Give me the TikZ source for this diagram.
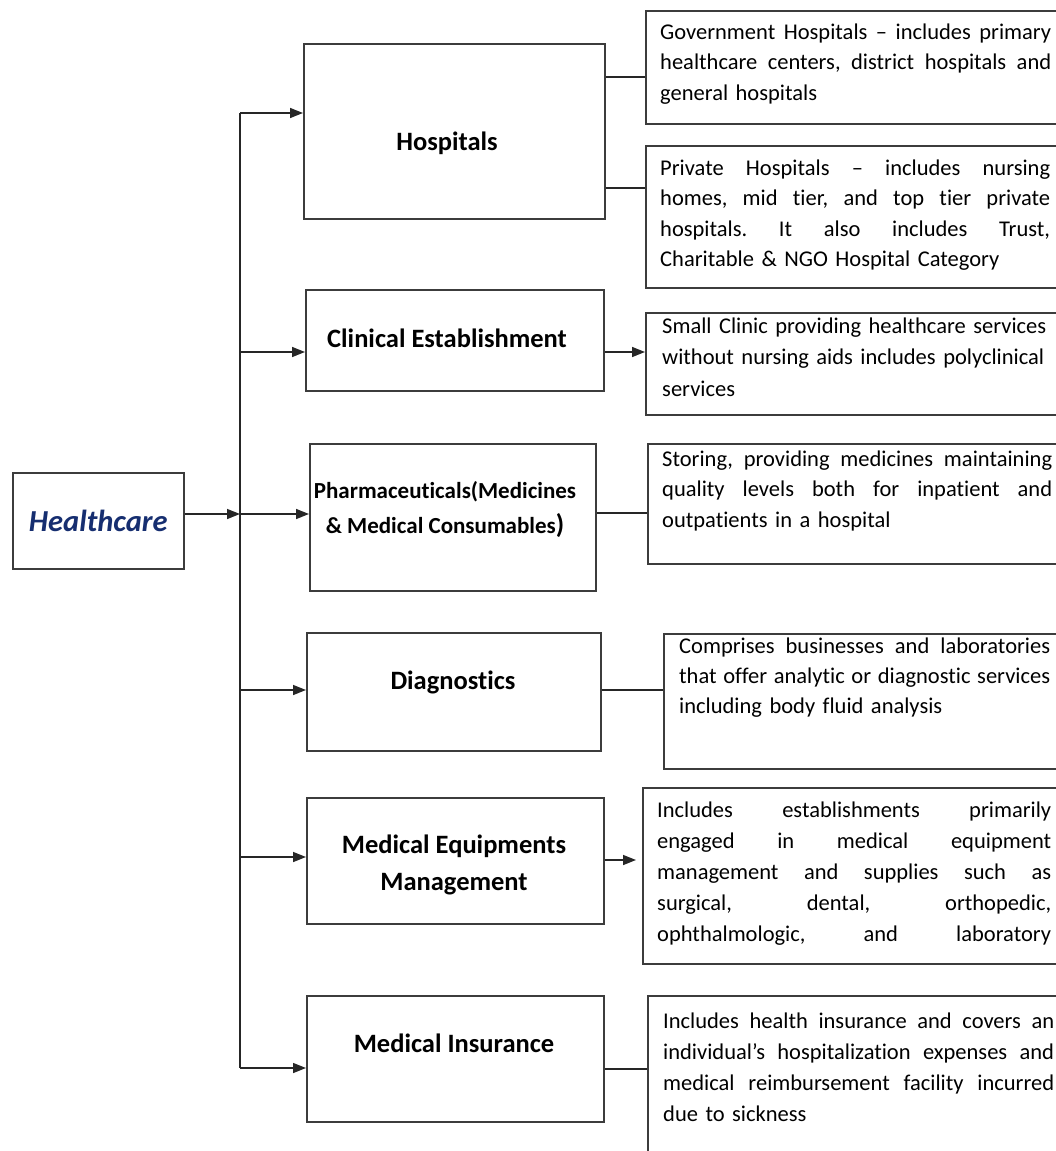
\documentclass[tikz,border=0pt]{standalone}
\usepackage{fontspec}
\setmainfont{Carlito}[Ligatures=NoCommon]
\usetikzlibrary{arrows.meta}
\definecolor{hcblue}{RGB}{22,46,112}
\definecolor{edge}{RGB}{60,60,60}
% one justified line, spaces stretched evenly to the given width
\newcommand{\jl}[2]{\leavevmode\hbox to #1{\frenchspacing\spaceskip=0pt\xspaceskip=0pt #2}}

\begin{document}
\begin{tikzpicture}[x=1pt,y=-1pt,
  box/.style={draw=edge,line width=1.5pt,fill=white,rectangle,anchor=north west,inner sep=0pt},
  head/.style={font=\fontsize{26.5}{37}\selectfont\bfseries,align=center,inner sep=0pt},
  desc/.style={font=\fontsize{22.5}{30.7}\selectfont,anchor=base west,inner sep=0pt,align=left},
  link/.style={line width=1.5pt,draw=black!85},
  arr/.style={link,-{Triangle[length=13pt,width=10pt]}}
]
\useasboundingbox (0,0) rectangle (1056,1151);
\clip (0,0) rectangle (1056,1151);

% root
\node[box,minimum width=171pt,minimum height=96pt,
      font=\fontsize{30.5}{36}\selectfont\bfseries\itshape,text=hcblue] (hc) at (12,472) {Healthcare};

% segment boxes
\node[box,minimum width=301pt,minimum height=175pt] (hosp)  at (303,43)  {};
\node[box,minimum width=298pt,minimum height=101pt] (clin)  at (305,289) {};
\node[box,minimum width=286pt,minimum height=147pt] (pharm) at (309,443) {};
\node[box,minimum width=294pt,minimum height=118pt] (diag)  at (306,632) {};
\node[box,minimum width=297pt,minimum height=126pt] (equip) at (306,797) {};
\node[box,minimum width=297pt,minimum height=126pt] (ins)   at (306,995) {};

\node[head] (hospt)  at (447,143) {Hospitals};
\node[head] (clint)  at (447,338) {Clinical Establishment};
\node[head,font=\fontsize{23}{35}\selectfont\bfseries] (pharmt) at (445,510)
  {Pharmaceuticals(Medicines\\\& Medical Consumables{\fontsize{27}{27}\selectfont)}};
\node[head] (diagt)  at (453,682) {Diagnostics};
\node[head] (equipt) at (454,865) {Medical Equipments\\Management};
\node[head] (inst)   at (454,1043) {Medical Insurance};

% description boxes (open to the right edge)
\node[box,minimum width=425pt,minimum height=113pt] (gov)    at (645,10)  {};
\node[box,minimum width=425pt,minimum height=142pt] (priv)   at (645,145) {};
\node[box,minimum width=425pt,minimum height=102pt] (clind)  at (645,312) {};
\node[box,minimum width=423pt,minimum height=120pt] (pharmd) at (647,443) {};
\node[box,minimum width=407pt,minimum height=135pt] (diagd)  at (663,633) {};
\node[box,minimum width=428pt,minimum height=176pt] (equipd) at (642,787) {};
\node[box,minimum width=423pt,minimum height=190pt] (insd)   at (647,995) {};

\node[desc,text width=391pt,font=\fontsize{22.5}{30.4}\selectfont] (govt) at (660,39.3)
  {\jl{391pt}{Government Hospitals – includes primary}\\
   \jl{391pt}{healthcare centers, district hospitals and}\\
   general hospitals};
\node[desc,text width=390pt,font=\fontsize{22.5}{30.5}\selectfont] (privt) at (660,175)
  {\jl{390pt}{Private Hospitals – includes nursing}\\
   \jl{390pt}{homes, mid tier, and top tier private}\\
   \jl{390pt}{hospitals. It also includes Trust,}\\
   Charitable \& NGO Hospital Category};
\node[desc,text width=391pt,font=\fontsize{22.5}{31.5}\selectfont] (clindt) at (662,333)
  {Small Clinic providing healthcare services\\
   without nursing aids includes polyclinical\\
   services};
\node[desc,text width=390pt,font=\fontsize{22.5}{30.5}\selectfont] (pharmdt) at (662,466)
  {\jl{390pt}{Storing, providing medicines maintaining}\\
   \jl{390pt}{quality levels both for inpatient and}\\
   outpatients in a hospital};
\node[desc,text width=371pt,font=\fontsize{22.5}{30.3}\selectfont] (diagdt) at (679,653.3)
  {\jl{371pt}{Comprises businesses and laboratories}\\
   \jl{371pt}{that offer analytic or diagnostic services}\\
   including body fluid analysis};
\node[desc,text width=394pt,font=\fontsize{22.5}{31}\selectfont] (equipdt) at (657,817)
  {\jl{394pt}{Includes establishments primarily}\\
   \jl{394pt}{engaged in medical equipment}\\
   \jl{394pt}{management and supplies such as}\\
   \jl{394pt}{surgical, dental, orthopedic,}\\
   \jl{394pt}{ophthalmologic, and laboratory}};
\node[desc,text width=391pt,font=\fontsize{22.5}{31.3}\selectfont] (insdt) at (663,1028)
  {\jl{391pt}{Includes health insurance and covers an}\\
   \jl{391pt}{individual’s hospitalization expenses and}\\
   \jl{391pt}{medical reimbursement facility incurred}\\
   due to sickness};

% trunk and branch points
\coordinate (t1) at (240,113);
\coordinate (t2) at (240,352);
\coordinate (t3) at (240,514);
\coordinate (t4) at (240,690);
\coordinate (t5) at (240,857);
\coordinate (t6) at (240,1068);
\draw[link] (t1) -- (t6);

\draw[arr] (hc.east |- t3) -- (t3);
\draw[arr] (t1) -- (t1 -| hosp.west);
\draw[arr] (t2) -- (t2 -| clin.west);
\draw[arr] (t3) -- (t3 -| pharm.west);
\draw[arr] (t4) -- (t4 -| diag.west);
\draw[arr] (t5) -- (t5 -| equip.west);
\draw[arr] (t6) -- (t6 -| ins.west);

% levels of the right-hand links
\coordinate (r1) at (0,77);
\coordinate (r2) at (0,188);
\coordinate (r3) at (0,352);
\coordinate (r4) at (0,513);
\coordinate (r5) at (0,690);
\coordinate (r6) at (0,860);
\coordinate (r7) at (0,1069);

\draw[link] (hosp.east |- r1) -- (gov.west |- r1);
\draw[link] (hosp.east |- r2) -- (priv.west |- r2);
\draw[arr] (clin.east |- r3) -- (clind.west |- r3);
\draw[link] (pharm.east |- r4) -- (pharmd.west |- r4);
\draw[link] (diag.east |- r5) -- (diagd.west |- r5);
\draw[arr,shorten >=6pt] (equip.east |- r6) -- (equipd.west |- r6);
\draw[link] (ins.east |- r7) -- (insd.west |- r7);
\end{tikzpicture}
\end{document}
